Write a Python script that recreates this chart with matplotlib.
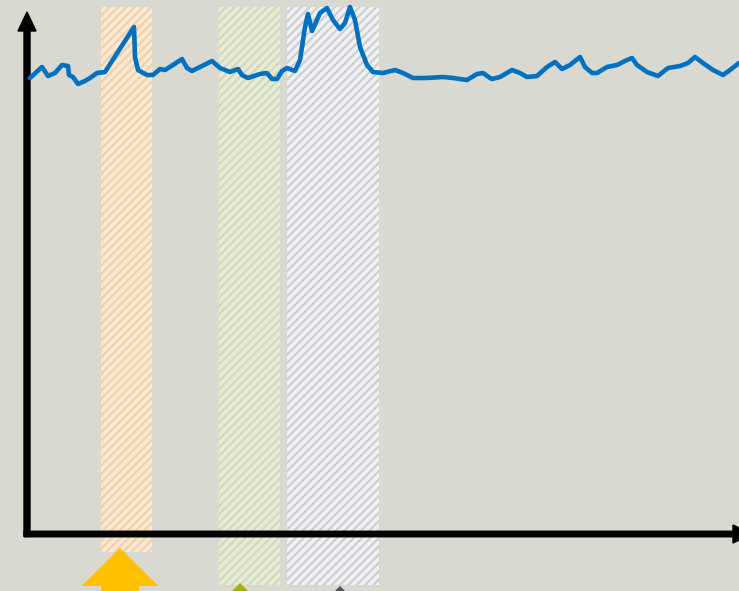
import matplotlib

matplotlib.use("Agg")
import matplotlib.pyplot as plt
from matplotlib.patches import FancyArrow, Rectangle

# Signal trace (time, level), ten samples per row
t = [0.3, 1.5, 2.1, 2.8, 3.5, 4.1, 4.2, 4.6, 5.1, 5.8,
     6.3, 7.0, 7.8, 10.7, 10.8, 11.1, 12.0, 12.6, 13.3, 13.8,
     14.6, 15.5, 16.0, 16.5, 17.3, 18.5, 19.3, 20.3, 21.1, 21.5,
     22.1, 23.3, 24.0, 24.5, 25.0, 25.5, 26.0, 26.8, 27.3, 27.8,
     28.1, 28.5, 29.3, 30.0, 30.6, 31.3, 31.8, 32.3, 32.8, 33.3,
     34.0, 34.6, 35.6, 36.8, 37.6, 38.6, 40.0, 41.6, 42.6, 44.0,
     45.0, 45.6, 46.3, 46.5, 47.3, 48.5, 49.3, 50.0, 51.0, 52.0,
     52.8, 53.5, 54.3, 55.3, 55.8, 56.5, 57.0, 58.0, 59.0, 60.0,
     60.5, 61.0, 62.0, 63.1, 64.1, 65.3, 66.1, 66.8, 67.6, 68.6,
     69.6, 70.3, 71.2]
level = [45.6, 46.7, 45.8, 46.1, 46.9, 46.8, 45.9, 45.7, 45.0, 45.3,
         45.6, 46.1, 46.2, 50.7, 47.7, 46.4, 45.9, 45.9, 46.5, 46.4,
         46.9, 47.5, 46.6, 46.3, 46.7, 47.3, 46.6, 46.2, 46.5, 45.9,
         45.6, 46.0, 46.1, 45.5, 45.5, 46.3, 46.6, 46.3, 47.4, 50.7,
         52.0, 50.3, 52.1, 52.6, 51.4, 50.5, 51.1, 52.7, 51.4, 48.7,
         46.9, 46.2, 46.1, 46.4, 46.1, 45.6, 45.6, 45.7, 45.6, 45.4,
         46.0, 46.1, 45.6, 45.5, 45.7, 46.4, 46.1, 45.7, 45.8, 46.7,
         47.2, 46.5, 46.9, 47.7, 46.7, 46.1, 46.1, 46.7, 46.9, 47.4,
         47.6, 46.9, 46.2, 45.8, 46.6, 46.8, 47.1, 47.7, 47.1, 46.4,
         45.9, 46.4, 47.1]

# Highlighted windows: start, end, bottom
win_start = [7.4, 19.2, 26.0]
win_end = [12.5, 25.3, 35.2]
win_bottom = [-1.8, -5.1, -5.1]
win_top = 52.7
win_fill = ["#FDE7CD", "#E7EBD6", "#EFF1F3"]
win_hatch = ["#ECD2B3", "#D2D8BE", "#CBCED3"]

# Markers below the windows
mark_x = [9.3, 21.3, 31.3]
mark_tip = [-1.4, -4.9, -5.2]
mark_color = ["#FFC000", "#A5AF16", "#4A535D"]
mark_head_w = [7.7, 3.2, 2.4]
mark_head_l = [3.8, 1.6, 1.2]
mark_body_w = [3.8, 1.6, 1.2]

BG = "#D9D9D1"
BLUE = "#0070C0"

plt.rcParams["hatch.linewidth"] = 1.6

fig = plt.figure(figsize=(7.39, 5.91), dpi=100, facecolor=BG)
ax = fig.add_axes([0, 0, 1, 1])
ax.set_facecolor(BG)
ax.set_xlim(-2.7, 71.2)
ax.set_ylim(-5.7, 53.4)
ax.axis("off")

for x0, x1, y0, fc, hc in zip(win_start, win_end, win_bottom, win_fill, win_hatch):
    ax.add_patch(Rectangle((x0, y0), x1 - x0, win_top - y0, facecolor=fc,
                           edgecolor=hc, hatch="////", linewidth=0, zorder=1))

# axes arrows
ax.add_patch(FancyArrow(0, -0.25, 0, 52.45, width=0.6, head_width=1.8,
                        head_length=1.9, length_includes_head=True,
                        color="black", zorder=3))
ax.add_patch(FancyArrow(-0.3, 0, 72.8, 0, width=0.55, head_width=1.8,
                        head_length=1.9, length_includes_head=True,
                        color="black", zorder=3))

ax.plot(t, level, color=BLUE, linewidth=3.3, solid_joinstyle="round",
        solid_capstyle="round", zorder=4)

for x, tip, c, hw, hl, bw in zip(mark_x, mark_tip, mark_color,
                                 mark_head_w, mark_head_l, mark_body_w):
    ax.add_patch(FancyArrow(x, -9, 0, tip + 9, width=bw, head_width=hw,
                            head_length=hl, length_includes_head=True,
                            color=c, linewidth=0, zorder=5))

fig.savefig("out.png", dpi=100, facecolor=BG)
